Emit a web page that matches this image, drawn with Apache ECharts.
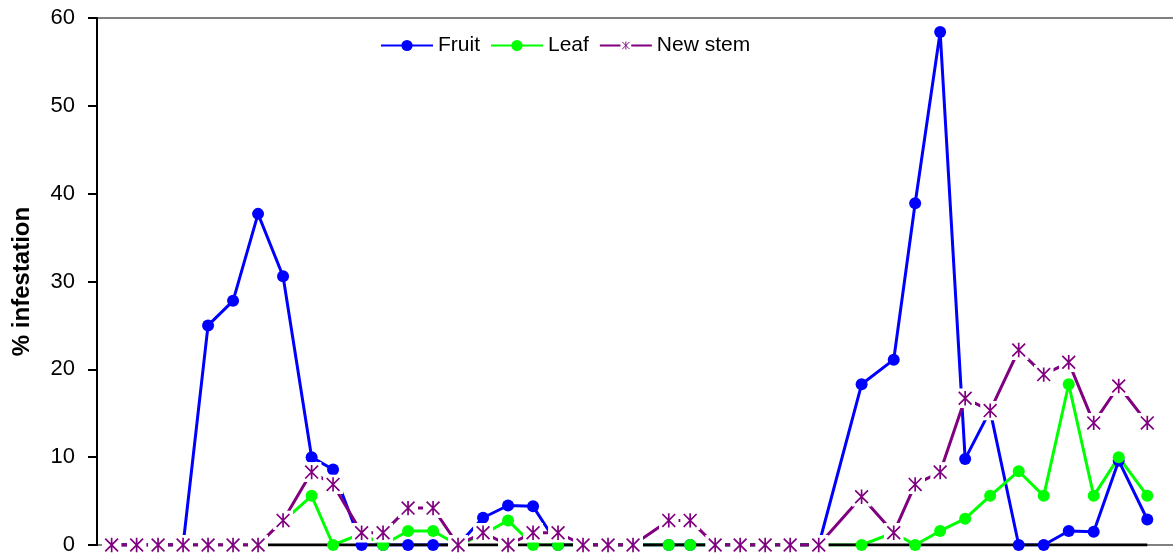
<!DOCTYPE html>
<html>
<head>
<meta charset="utf-8">
<script src="https://cdn.jsdelivr.net/npm/echarts@6/dist/echarts.min.js"></script>
<style>
  html, body { margin: 0; padding: 0; background: #ffffff; }
  #chart { width: 1173px; height: 556px; }
</style>
</head>
<body>
<div id="chart"></div>
<script>
// Sampling dates, as days after the first sample
const sampleDay = [0, 7, 13, 20, 27, 34, 41, 48, 56, 62, 70, 76, 83, 90, 97, 104, 111, 118, 125, 132, 139,
                   146, 156, 162, 169, 176, 183, 190, 198, 210, 219, 225, 232, 239, 246, 254, 261, 268, 275, 282, 290];

// % infestation per plant part (null = not sampled)
const fruit = [0, 0, 0, 0, 25.0, 27.8, 37.7, 30.6, 10.0, 8.6, 0, 0, 0, 0, 0, 3.1, 4.5, 4.4, 0, 0, 0,
               0, 0, 0, 0, 0, 0, 0, 0, 18.3, 21.1, 38.9, 58.4, 9.8, 15.3, 0, 0, 1.6, 1.5, 9.6, 2.9];
const leaf = [null, null, null, null, null, null, null, 2.7, 5.6, 0, 1.3, 0, 1.6, 1.6, 0, 1.2, 2.8, 0, 0, 0, 0,
              0, 0, 0, 0, 0, 0, 0, 0, 0, 1.4, 0, 1.6, 3.0, 5.6, 8.4, 5.6, 18.3, 5.6, 10.0, 5.6];
const newStem = [0, 0, 0, 0, 0, 0, 0, 2.8, 8.3, 6.9, 1.4, 1.4, 4.2, 4.2, 0, 1.4, 0, 1.4, 1.4, 0, 0,
                 0, 2.8, 2.8, 0, 0, 0, 0, 0, 5.5, 1.4, 6.9, 8.3, 16.7, 15.3, 22.2, 19.4, 20.8, 13.9, 18.1, 13.9];

// Value-axis ticks
const yTicks = [0, 10, 20, 30, 40, 50, 60];

// Day range shown across the plot area
const dayRange = [-4.1, 297.2];

const seriesNames = ['Fruit', 'Leaf', 'New stem'];
const FONT = "'Liberation Sans', Arial, Helvetica, sans-serif";

function pairs(values) {
  return sampleDay.map((d, i) => [d, values[i] === null ? '-' : values[i]]);
}

// Asterisk marker drawn on an opaque white square, as spreadsheet star markers are
const starSvg = "<svg xmlns='http://www.w3.org/2000/svg' width='40' height='40' viewBox='0 0 20 20'>" +
  "<rect width='20' height='20' fill='#ffffff'/>" +
  "<path d='M3.6 3.6L16.4 16.4M16.4 3.6L3.6 16.4M10 2.8V17.2' stroke='#800080' stroke-width='1.7' fill='none'/></svg>";
const starSymbol = 'image://data:image/svg+xml;charset=utf-8,' + encodeURIComponent(starSvg);

const chart = echarts.init(document.getElementById('chart'), null, { renderer: 'canvas' });

const lineCommon = {
  type: 'line',
  showSymbol: true,
  showAllSymbol: true,
  connectNulls: false,
  emphasis: { disabled: true },
  silent: true
};

// plot-area frame: grey top and bottom edges only
const frameAxis = (position) => ({
  type: 'value',
  position: position,
  min: dayRange[0], max: dayRange[1],
  axisLine: { show: true, onZero: false, lineStyle: { color: '#808080', width: 2 } },
  axisTick: { show: false },
  axisLabel: { show: false },
  splitLine: { show: false }
});

chart.setOption({
  animation: false,
  backgroundColor: '#ffffff',
  textStyle: { fontFamily: FONT },
  grid: { left: 97, top: 18, right: 0, bottom: 10, show: false },
  legend: {
    data: seriesNames,
    left: 380, top: 35, padding: 0,
    itemWidth: 52, itemHeight: 14, itemGap: 10,
    textStyle: { fontFamily: FONT, fontSize: 21, color: '#000000' }
  },
  xAxis: [frameAxis('bottom'), frameAxis('top')],
  yAxis: {
    type: 'value',
    min: yTicks[0],
    max: yTicks[yTicks.length - 1],
    interval: yTicks[1] - yTicks[0],
    name: '% infestation',
    nameLocation: 'middle',
    nameRotate: 90,
    nameGap: 63,
    nameTextStyle: { fontFamily: FONT, fontSize: 24, fontWeight: 'bold', color: '#000000' },
    axisLine: { show: true, onZero: false, lineStyle: { color: '#000000', width: 2 } },
    axisTick: { show: true, length: 9, lineStyle: { color: '#000000', width: 2 } },
    axisLabel: { fontFamily: FONT, fontSize: 22, color: '#000000', margin: 22 },
    splitLine: { show: false },
    z: 3
  },
  series: [
    Object.assign({}, lineCommon, {
      name: 'Fruit',
      data: pairs(fruit),
      symbol: 'circle', symbolSize: 12,
      itemStyle: { color: '#0000ff' },
      lineStyle: { color: '#0000ff', width: 3 }
    }),
    Object.assign({}, lineCommon, {
      name: 'Leaf',
      data: pairs(leaf),
      symbol: 'circle', symbolSize: 12,
      itemStyle: { color: '#00ff00' },
      lineStyle: { color: '#00ff00', width: 3 }
    }),
    Object.assign({}, lineCommon, {
      // zero reference line spanning the sampling period
      name: 'zero',
      data: [[sampleDay[0], 0], [sampleDay[sampleDay.length - 1], 0]],
      symbol: 'none',
      lineStyle: { color: '#000000', width: 3 }
    }),
    Object.assign({}, lineCommon, {
      name: 'New stem',
      data: pairs(newStem),
      symbol: starSymbol, symbolSize: 20,
      itemStyle: { color: '#800080' },
      lineStyle: { color: '#800080', width: 3 }
    })
  ]
});
</script>
</body>
</html>
